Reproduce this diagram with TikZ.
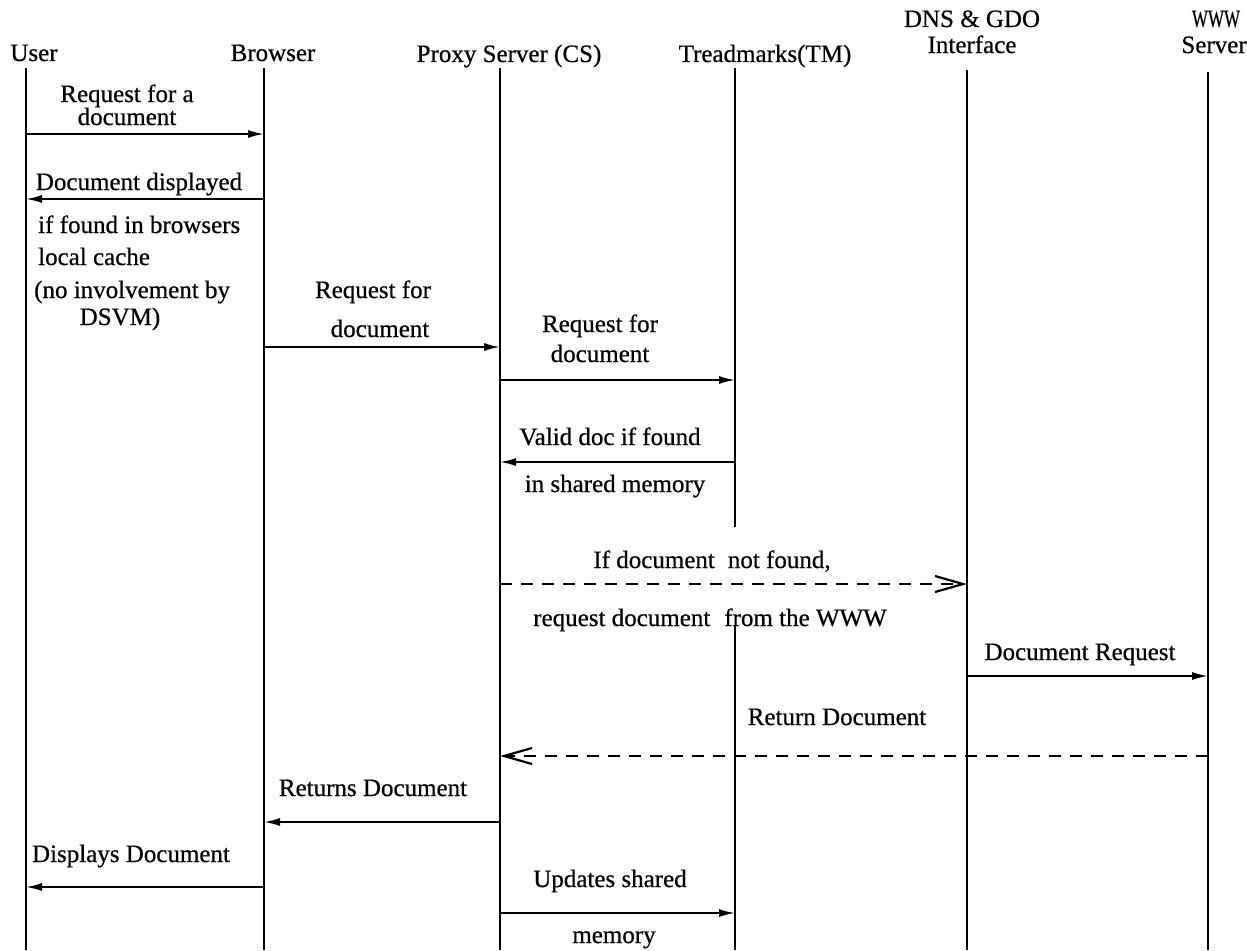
\documentclass[tikz,border=0pt]{standalone}
\usepackage{fontspec}
\setmainfont{Liberation Serif}[FakeBold=0.6]
\usetikzlibrary{arrows.meta}

\begin{document}
\begin{tikzpicture}[
  x=1pt, y=-1pt,
  every node/.style={font=\fontsize{25pt}{27pt}\selectfont, inner sep=0pt, anchor=base},
  life/.style={line width=1.8pt},
  msg/.style={line width=1.8pt, -{Latex[length=16pt,width=8pt]}},
  fetch/.style={line width=1.8pt, dash pattern=on 12pt off 9pt,
    -{Straight Barb[length=28pt,width=16pt,line width=2.2pt]}}
]
\useasboundingbox (0,0) rectangle (1247,950);

% heads of the lifelines
\node (user) at (34,61) {User};
\node (browser) at (273,61) {Browser};
\node (proxy) at (509,62) {Proxy Server (CS)};
\node (tm) at (765,62) {Treadmarks(TM)};
\node (dns) at (972,27) {DNS \& GDO};
\node (dnsb) at (972,53) {Interface};
\node (www) at (1216,27) {\scalebox{0.68}[1]{WWW}};
\node (wwwb) at (1214,53) {Server};

% lifelines
\coordinate (u) at (26,68);
\coordinate (b) at (264,68);
\coordinate (p) at (500,68);
\coordinate (t) at (735,68);
\coordinate (d) at (967,70);
\coordinate (w) at (1208,72);
\coordinate (t2) at (735,625);
\foreach \n in {u,b,p,d,w}
  \draw[life] (\n) -- (\n |- 0,950);
\draw[life] (t) -- (t |- 0,527);
\draw[life] (t2) -- (t2 |- 0,950);

% User -> Browser
\node (req1a) at (127,102) {Request for a};
\node (req1b) at (127,125) {document};
\draw[msg] (u |- 0,134) -- (b |- 0,134);

% Browser -> User, from the local cache
\node (disp1) at (139,190) {Document displayed};
\draw[msg] (b |- 0,199) -- (u |- 0,199);
\node[anchor=base west] (cache1) at (38,233) {if found in browsers};
\node[anchor=base west] (cache2) at (38,265) {local cache};
\node[anchor=base west] (cache3) at (34,298) {(no involvement by};
\node (cache4) at (120,325) {DSVM)};

% Browser -> Proxy
\node (req2a) at (373,298) {Request for};
\node (req2b) at (380,337) {document};
\draw[msg] (b |- 0,347) -- (p |- 0,347);

% Proxy -> Treadmarks
\node (req3a) at (600,332) {Request for};
\node (req3b) at (600,362) {document};
\draw[msg] (p |- 0,380) -- (t |- 0,380);

% Treadmarks -> Proxy
\node (valid) at (610,445) {Valid doc if found};
\draw[msg] (t |- 0,462) -- (p |- 0,462);
\node (shmem) at (615,492) {in shared memory};

% Proxy -> DNS & GDO
\node (miss1) at (712,568) {If document\hspace{13pt}not found,};
\draw[fetch] (p |- 0,584) -- (d |- 0,584);
\node (miss2) at (710,626) {request document\hspace{14pt}from the WWW};

% DNS & GDO -> WWW
\node (docreq) at (1080,660) {Document Request};
\draw[msg] (d |- 0,676) -- (w |- 0,676);

% WWW -> Proxy
\node (ret1) at (837,725) {Return Document};
\draw[fetch] (w |- 0,756) -- (p |- 0,756);

% Proxy -> Browser
\node (ret2) at (373,796) {Returns Document};
\draw[msg] (p |- 0,822) -- (b |- 0,822);

% Browser -> User
\node (disp2) at (131,862) {Displays Document};
\draw[msg] (b |- 0,887) -- (u |- 0,887);

% Proxy -> Treadmarks
\node (upd1) at (610,887) {Updates shared};
\draw[msg] (p |- 0,913) -- (t |- 0,913);
\node (upd2) at (614,943) {memory};
\end{tikzpicture}
\end{document}
